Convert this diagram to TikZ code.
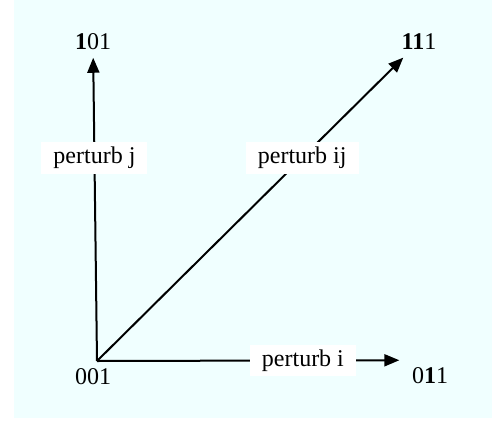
\documentclass[tikz,border=0pt]{standalone}
\usepackage{fontspec}
\setmainfont{Liberation Serif}
\usetikzlibrary{positioning, arrows.meta}
\definecolor{bgcyan}{RGB}{240,255,255}

\begin{document}
\begin{tikzpicture}[x=0.5pt,y=-0.5pt,line width=1pt,
    >={Triangle[length=7.5pt,width=6pt]},
    every node/.style={font=\fontsize{12}{14}\selectfont},
    move/.style={fill=white,inner xsep=6pt,inner ysep=2.5pt,pos=0.67}]
      \useasboundingbox (0,0) rectangle (492,423);
      \fill[bgcyan] (14,0) rectangle (492,418);

      \coordinate (o) at (97,361);
      \node (n001) at (93,377) {001};
      \node (n101) at (93,42) {\textbf{1}01};
      \node (n111) at (419,42) {\textbf{11}1};
      \node (n011) at (430,376) {0\textbf{1}1};

      \draw[->] (o) -- (n101) node[move] (pj) {perturb j};
      \draw[->] (o) -- (n111) node[move] (pij) {perturb ij};
      \draw[->,shorten >=2.5pt] (o) -- (n011.north west) node[move] (pi) {perturb i};
    \end{tikzpicture}
\end{document}
